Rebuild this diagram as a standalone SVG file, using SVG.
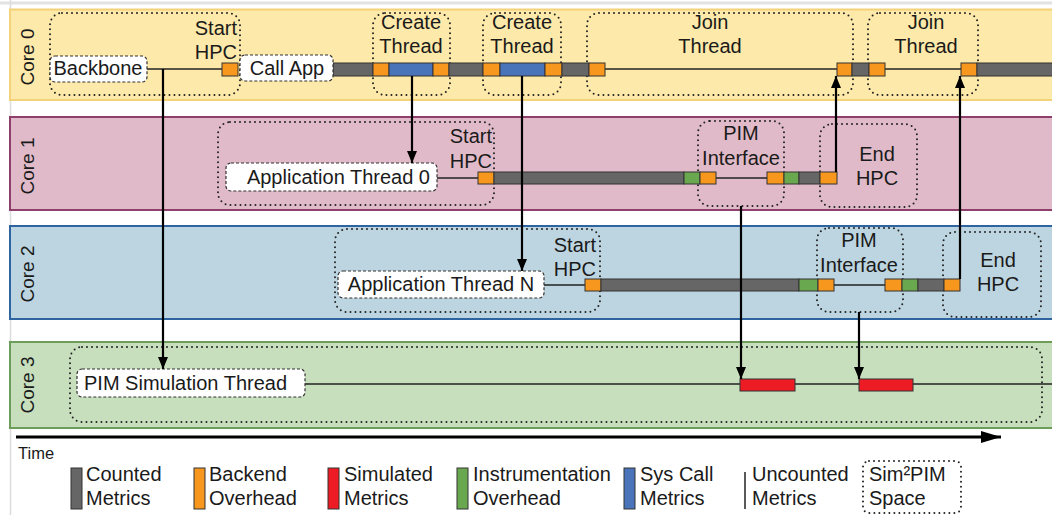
<svg xmlns="http://www.w3.org/2000/svg" width="1052" height="515" viewBox="0 0 1052 515">
<style>
text{font-family:"Liberation Sans",Arial,sans-serif;font-size:20px;fill:#1a1a1a}
.c{text-anchor:middle}
.e{text-anchor:end}
.core{font-size:19px}
.dot{fill:none;stroke:#222;stroke-width:2;stroke-dasharray:0 5;stroke-linecap:round}
.lbl{fill:#fff;stroke:#333;stroke-width:1.2;stroke-dasharray:3 2}
.cnt{fill:#666;stroke:#333;stroke-width:1}
.be{fill:#F7971E;stroke:#333;stroke-width:1}
.sc{fill:#4A74BA;stroke:#333;stroke-width:1}
.ins{fill:#6AA84F;stroke:#333;stroke-width:1}
.sim{fill:#ED1C24;stroke:#333;stroke-width:1}
.un{stroke:#222;stroke-width:1.5;fill:none}
.conn{stroke:#000;stroke-width:2.2;fill:none}
</style>
<defs>
<marker id="ah" viewBox="0 0 12 10" refX="12" refY="5" markerWidth="12" markerHeight="10" orient="auto" markerUnits="userSpaceOnUse"><path d="M0,0 L12,5 L0,10 z" fill="#000"/></marker>
<marker id="ahT" viewBox="0 0 20 12" refX="20" refY="6" markerWidth="20" markerHeight="12" orient="auto" markerUnits="userSpaceOnUse"><path d="M0,0 L20,6 L0,12 z" fill="#000"/></marker>
</defs>
<rect width="1052" height="515" fill="#fff"/>
<line x1="0" y1="3" x2="1052" y2="3" stroke="#e2e2e2" stroke-width="3"/>
<line x1="10.5" y1="0" x2="10.5" y2="515" stroke="#dcdcdc" stroke-width="1.5"/>

<g id="lanes">
<rect x="10" y="9.5" width="1050" height="90.5" fill="#FDE9A9" stroke="#F3D27A" stroke-width="2"/>
<rect x="10" y="117" width="1050" height="93" fill="#E0BAC8" stroke="#8E3F6C" stroke-width="2"/>
<rect x="10" y="226" width="1050" height="93" fill="#BDD5E0" stroke="#2E64A0" stroke-width="2"/>
<rect x="10" y="342" width="1050" height="86" fill="#C7DFBD" stroke="#6C9E5A" stroke-width="2"/>
<text class="c core" transform="translate(34,57) rotate(-90)">Core 0</text>
<text class="c core" transform="translate(34,166) rotate(-90)">Core 1</text>
<text class="c core" transform="translate(34,274) rotate(-90)">Core 2</text>
<text class="c core" transform="translate(34,385) rotate(-90)">Core 3</text>
</g>

<g id="spaces">
<rect class="dot" x="50" y="13" width="190" height="82" rx="12"/>
<rect class="dot" x="373" y="13" width="77" height="82" rx="12"/>
<rect class="dot" x="483" y="13" width="78" height="82" rx="12"/>
<rect class="dot" x="587" y="13" width="266" height="82" rx="12"/>
<rect class="dot" x="868" y="13" width="110" height="82" rx="12"/>
<rect class="dot" x="218" y="122" width="276" height="83" rx="12"/>
<rect class="dot" x="698" y="121" width="86" height="85" rx="12"/>
<rect class="dot" x="820" y="124" width="97" height="83" rx="12"/>
<rect class="dot" x="335" y="229" width="265" height="83" rx="12"/>
<rect class="dot" x="817" y="228" width="86" height="84" rx="12"/>
<rect class="dot" x="943" y="232" width="98" height="85" rx="12"/>
<rect class="dot" x="70" y="347" width="972" height="75" rx="12"/>
</g>

<g id="timelines">
<line class="un" x1="147" y1="69" x2="222" y2="69"/>
<line class="un" x1="605" y1="69" x2="837" y2="69"/>
<line class="un" x1="885" y1="69" x2="961" y2="69"/>
<line class="un" x1="437" y1="178" x2="478" y2="178"/>
<line class="un" x1="716" y1="178" x2="767" y2="178"/>
<line class="un" x1="544" y1="285" x2="585" y2="285"/>
<line class="un" x1="834" y1="285" x2="885" y2="285"/>
<line class="un" x1="305" y1="384" x2="1052" y2="384"/>
</g>

<g id="core0-bar">
<rect class="be" x="222" y="63" width="16" height="13"/>
<rect class="cnt" x="333" y="63" width="40" height="13"/>
<rect class="be" x="373" y="63" width="16" height="13"/>
<rect class="sc" x="389" y="63" width="44" height="13"/>
<rect class="be" x="433" y="63" width="16" height="13"/>
<rect class="cnt" x="449" y="63" width="34" height="13"/>
<rect class="be" x="483" y="63" width="17" height="13"/>
<rect class="sc" x="500" y="63" width="45" height="13"/>
<rect class="be" x="545" y="63" width="17" height="13"/>
<rect class="cnt" x="562" y="63" width="27" height="13"/>
<rect class="be" x="589" y="63" width="16" height="13"/>
<rect class="be" x="837" y="63" width="15" height="13"/>
<rect class="cnt" x="852" y="63" width="17" height="13"/>
<rect class="be" x="869" y="63" width="16" height="13"/>
<rect class="be" x="961" y="63" width="16" height="13"/>
<rect class="cnt" x="977" y="63" width="80" height="13"/>
</g>

<g id="core1-bar">
<rect class="be" x="478" y="172" width="16" height="12"/>
<rect class="cnt" x="494" y="172" width="190" height="12"/>
<rect class="ins" x="684" y="172" width="16" height="12"/>
<rect class="be" x="700" y="172" width="16" height="12"/>
<rect class="be" x="767" y="172" width="17" height="12"/>
<rect class="ins" x="784" y="172" width="15" height="12"/>
<rect class="cnt" x="799" y="172" width="21" height="12"/>
<rect class="be" x="820" y="172" width="17" height="12"/>
</g>

<g id="core2-bar">
<rect class="be" x="585" y="279" width="16" height="12"/>
<rect class="cnt" x="601" y="279" width="198" height="12"/>
<rect class="ins" x="799" y="279" width="19" height="12"/>
<rect class="be" x="818" y="279" width="16" height="12"/>
<rect class="be" x="885" y="279" width="17" height="12"/>
<rect class="ins" x="902" y="279" width="16" height="12"/>
<rect class="cnt" x="918" y="279" width="26" height="12"/>
<rect class="be" x="944" y="279" width="16" height="12"/>
</g>

<g id="core3-bar">
<rect class="sim" x="740" y="379" width="55" height="12"/>
<rect class="sim" x="859" y="379" width="54" height="12"/>
</g>

<g id="backbone"><rect class="lbl" x="50" y="56" width="97" height="26" rx="5"/><text class="c" x="98" y="75">Backbone</text></g>
<g id="start-hpc-0"><text class="e" x="237" y="35">Start</text><text class="e" x="237" y="59">HPC</text></g>
<g id="call-app"><rect class="lbl" x="240" y="55" width="93" height="26" rx="5"/><text class="c" x="287" y="75">Call App</text></g>
<g id="create-thread-1"><text class="c" x="411" y="29">Create</text><text class="c" x="411" y="53">Thread</text></g>
<g id="create-thread-2"><text class="c" x="522" y="29">Create</text><text class="c" x="522" y="53">Thread</text></g>
<g id="join-thread-1"><text class="c" x="710" y="29">Join</text><text class="c" x="710" y="53">Thread</text></g>
<g id="join-thread-2"><text class="c" x="926" y="29">Join</text><text class="c" x="926" y="53">Thread</text></g>

<g id="app-thread-0"><rect class="lbl" x="226" y="163" width="211" height="28" rx="5"/><text class="e" x="430" y="184">Application Thread 0</text></g>
<g id="start-hpc-1"><text class="e" x="492" y="143">Start</text><text class="e" x="492" y="168">HPC</text></g>
<g id="pim-if-1"><text class="c" x="741" y="140">PIM</text><text class="c" x="741" y="165">Interface</text></g>
<g id="end-hpc-1"><text class="c" x="877" y="161">End</text><text class="c" x="877" y="185">HPC</text></g>

<g id="app-thread-n"><rect class="lbl" x="338" y="271" width="206" height="27" rx="5"/><text class="c" x="441" y="291">Application Thread N</text></g>
<g id="start-hpc-2"><text class="e" x="596" y="252">Start</text><text class="e" x="596" y="276">HPC</text></g>
<g id="pim-if-2"><text class="c" x="859" y="247">PIM</text><text class="c" x="859" y="272">Interface</text></g>
<g id="end-hpc-2"><text class="c" x="998" y="267">End</text><text class="c" x="998" y="291">HPC</text></g>

<g id="pim-sim"><rect class="lbl" x="77" y="369" width="228" height="28" rx="5"/><text x="84" y="390">PIM Simulation Thread</text></g>

<g id="connectors">
<line class="conn" x1="163" y1="69" x2="163" y2="369" marker-end="url(#ah)"/>
<line class="conn" x1="412" y1="76" x2="412" y2="163" marker-end="url(#ah)"/>
<line class="conn" x1="522" y1="76" x2="522" y2="271" marker-end="url(#ah)"/>
<line class="conn" x1="741" y1="206" x2="741" y2="379" marker-end="url(#ah)"/>
<line class="conn" x1="859" y1="312" x2="859" y2="379" marker-end="url(#ah)"/>
<line class="conn" x1="836" y1="172" x2="836" y2="76" marker-end="url(#ah)"/>
<line class="conn" x1="960" y1="279" x2="960" y2="76" marker-end="url(#ah)"/>
<line x1="16" y1="437" x2="1001" y2="437" stroke="#000" stroke-width="3" marker-end="url(#ahT)"/>
</g>
<text x="18" y="459" style="font-size:16.5px">Time</text>

<g id="legend">
<rect class="cnt" x="71" y="468" width="11" height="41"/><text x="86" y="481">Counted</text><text x="86" y="505">Metrics</text>
<rect class="be" x="194" y="468" width="11" height="41"/><text x="209" y="481">Backend</text><text x="209" y="505">Overhead</text>
<rect class="sim" x="328" y="468" width="11" height="41"/><text x="344" y="481">Simulated</text><text x="344" y="505">Metrics</text>
<rect class="ins" x="457" y="468" width="11" height="41"/><text x="473" y="481">Instrumentation</text><text x="473" y="505">Overhead</text>
<rect class="sc" x="624" y="468" width="11" height="41"/><text x="640" y="481">Sys Call</text><text x="640" y="505">Metrics</text>
<line class="un" x1="745" y1="472" x2="745" y2="509"/><text x="752" y="481">Uncounted</text><text x="752" y="505">Metrics</text>
<rect class="dot" x="863" y="461" width="98" height="52" rx="6"/><text x="869" y="481">Sim²PIM</text><text x="869" y="505">Space</text>
</g>
</svg>
